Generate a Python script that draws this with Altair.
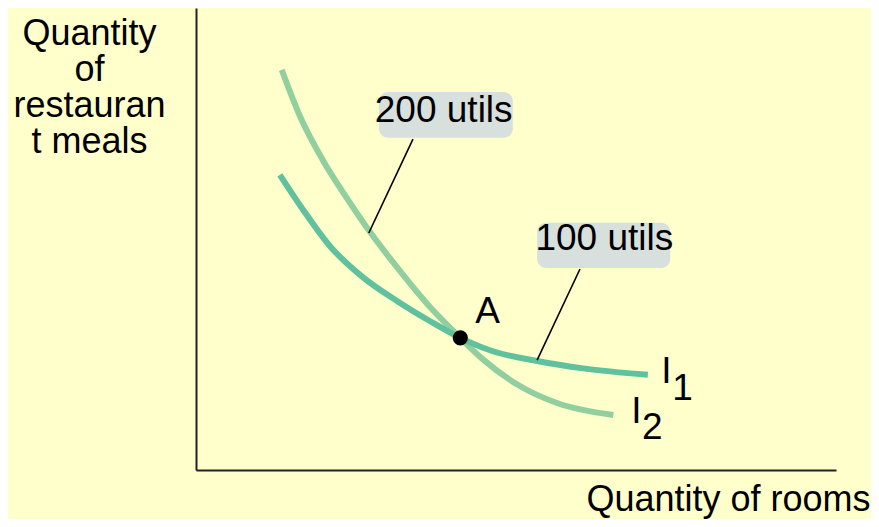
import altair as alt
import pandas as pd

# Indifference curve I1 (100 utils) - quantity of rooms vs restaurant meals
i1_rooms = [1.31, 1.67, 2.09, 2.61, 3.14, 3.66, 4.13, 4.64, 5.33, 6.05, 7.06]
i1_meals = [6.39, 5.64, 4.85, 4.17, 3.66, 3.22, 2.86, 2.57, 2.36, 2.20, 2.06]

# Indifference curve I2 (200 utils)
i2_rooms = [1.34, 1.63, 1.98, 2.36, 2.72, 3.14, 3.61, 4.13, 4.48, 5.02, 5.64, 6.52]
i2_meals = [8.66, 7.64, 6.71, 5.88, 5.15, 4.39, 3.60, 2.86, 2.40, 1.85, 1.45, 1.19]

# Point A
point_rooms = [4.13]
point_meals = [2.86]
point_label = ["A"]

# Callout boxes
box_text = ["200 utils", "100 utils"]
box_x1 = [2.86, 5.33]
box_x2 = [4.95, 7.41]
box_y1 = [7.19, 4.37]
box_y2 = [8.18, 5.35]
box_text_x = [3.87, 6.38]
box_text_y = [7.53, 4.76]
lead_x1 = [3.39, 6.00]
lead_y1 = [7.16, 4.35]
lead_x2 = [2.70, 5.33]
lead_y2 = [5.13, 2.38]

# Curve labels
curve_names = ["I", "I"]
curve_subs = ["1", "2"]
curve_lab_x = [7.27, 6.80]
curve_lab_y = [1.88, 1.02]
curve_sub_x = [7.44, 6.97]
curve_sub_y = [1.52, 0.67]

FONT = "Liberation Sans"
FS = 37

xs = alt.Scale(domain=[0, 10], nice=False, zero=False)
ys = alt.Scale(domain=[0, 10], nice=False, zero=False)

i1 = pd.DataFrame({"rooms": i1_rooms, "meals": i1_meals})
i2 = pd.DataFrame({"rooms": i2_rooms, "meals": i2_meals})
pt = pd.DataFrame({"rooms": point_rooms, "meals": point_meals, "label": point_label})
boxes = pd.DataFrame({
    "text": box_text, "x1": box_x1, "x2": box_x2, "y1": box_y1, "y2": box_y2,
    "tx": box_text_x, "ty": box_text_y,
    "lx1": lead_x1, "ly1": lead_y1, "lx2": lead_x2, "ly2": lead_y2,
})
labs = pd.DataFrame({
    "name": curve_names, "sub": curve_subs,
    "x": curve_lab_x, "y": curve_lab_y, "sx": curve_sub_x, "sy": curve_sub_y,
})

x_axis = alt.Axis(
    domain=True, ticks=False, labels=False, grid=False,
    domainColor="#222222", domainWidth=2,
    title="Quantity of rooms", titleFont=FONT, titleFontSize=36,
    titleFontWeight="normal", titleColor="#000000",
    titleAlign="right", titleBaseline="alphabetic", titleX=674, titleY=40,
)
y_axis = alt.Axis(
    domain=True, ticks=False, labels=False, grid=False,
    domainColor="#222222", domainWidth=2,
    title=["Quantity", "of", "restauran", "t meals"], titleFont=FONT,
    titleFontSize=36, titleFontWeight="normal", titleColor="#000000",
    titleAngle=0, titleAlign="center", titleBaseline="alphabetic",
    titleX=-107, titleY=36, titleLineHeight=36,
)


def X(field):
    return alt.X(field, type="quantitative", scale=xs, axis=x_axis)


def Y(field):
    return alt.Y(field, type="quantitative", scale=ys, axis=y_axis)


line2 = alt.Chart(i2).mark_line(
    color="#92CF9F", strokeWidth=6, interpolate="monotone", strokeCap="butt"
).encode(x=X("rooms"), y=Y("meals"))
line1 = alt.Chart(i1).mark_line(
    color="#5FC19E", strokeWidth=6, interpolate="monotone", strokeCap="butt"
).encode(x=X("rooms"), y=Y("meals"))
dot = alt.Chart(pt).mark_point(
    filled=True, shape="circle", size=230, color="#000000", opacity=1
).encode(x=X("rooms"), y=Y("meals"))
dot_label = alt.Chart(pt).mark_text(
    font=FONT, fontSize=FS, color="#000000", align="left", baseline="alphabetic",
    dx=15, dy=-15,
).encode(x=X("rooms"), y=Y("meals"), text="label:N")
leaders = alt.Chart(boxes).mark_rule(color="#000000", strokeWidth=1.6).encode(
    x=X("lx1"), y=Y("ly1"), x2="lx2:Q", y2="ly2:Q",
)
rects = alt.Chart(boxes).mark_rect(color="#D8E0DE", cornerRadius=9).encode(
    x=X("x1"), x2="x2:Q", y=Y("y1"), y2="y2:Q",
)
rect_text = alt.Chart(boxes).mark_text(
    font=FONT, fontSize=FS, color="#000000", align="center", baseline="alphabetic"
).encode(x=X("tx"), y=Y("ty"), text="text:N")
name_text = alt.Chart(labs).mark_text(
    font=FONT, fontSize=FS, color="#000000", align="left", baseline="alphabetic"
).encode(x=X("x"), y=Y("y"), text="name:N")
sub_text = alt.Chart(labs).mark_text(
    font=FONT, fontSize=FS, color="#000000", align="left", baseline="alphabetic"
).encode(x=X("sx"), y=Y("sy"), text="sub:N")

chart = alt.layer(
    line2, line1, leaders, rects, rect_text, dot, dot_label, name_text, sub_text
).properties(
    width=640, height=462,
    autosize=alt.AutoSizeParams(type="none"),
    padding={"left": 188, "top": 0, "right": 35, "bottom": 49},
    background="#FFFFCC",
).configure_view(stroke=None)

chart.save("out.html", embed_options={"renderer": "svg", "actions": False})
